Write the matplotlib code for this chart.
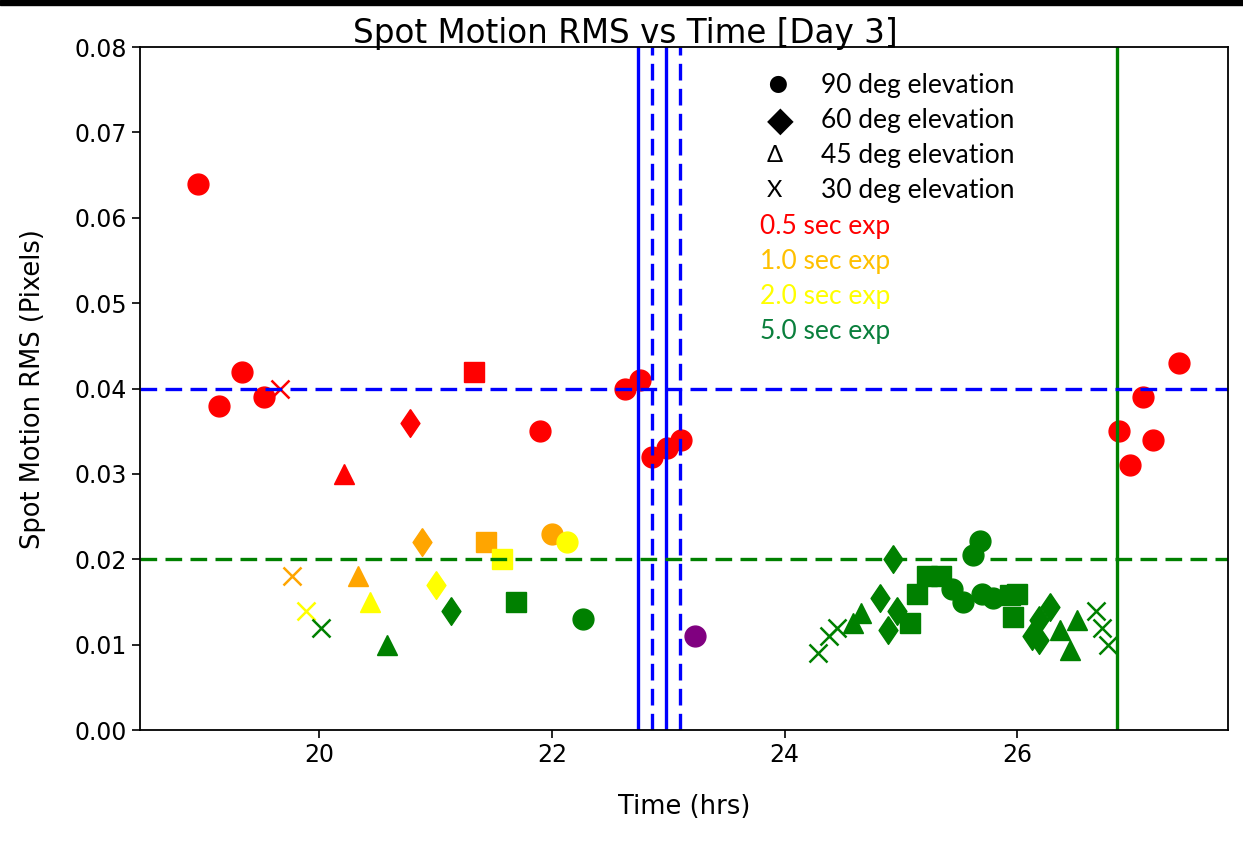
import matplotlib
matplotlib.use("Agg")
import matplotlib.pyplot as plt
from matplotlib.patches import Rectangle

# 0.5 sec exposures (red)
red_circle_t = [18.96, 19.14, 19.34, 19.53, 21.90, 22.63, 22.76, 22.86, 22.99, 23.11,
                26.87, 26.97, 27.08, 27.17, 27.39]
red_circle_rms = [0.064, 0.038, 0.042, 0.039, 0.035, 0.040, 0.041, 0.032, 0.033, 0.034,
                  0.035, 0.031, 0.039, 0.034, 0.043]
red_diamond_t, red_diamond_rms = [20.78], [0.036]
red_tri_t, red_tri_rms = [20.21], [0.030]
red_x_t, red_x_rms = [19.66], [0.040]
red_square_t, red_square_rms = [21.33], [0.042]

# 1.0 sec exposures (orange)
orange_circle_t, orange_circle_rms = [22.00], [0.023]
orange_diamond_t, orange_diamond_rms = [20.88], [0.022]
orange_tri_t, orange_tri_rms = [20.33], [0.018]
orange_x_t, orange_x_rms = [19.77], [0.018]
orange_square_t, orange_square_rms = [21.43], [0.022]

# 2.0 sec exposures (yellow)
yellow_circle_t, yellow_circle_rms = [22.13], [0.022]
yellow_diamond_t, yellow_diamond_rms = [21.00], [0.017]
yellow_tri_t, yellow_tri_rms = [20.44], [0.015]
yellow_x_t, yellow_x_rms = [19.89], [0.014]
yellow_square_t, yellow_square_rms = [21.57], [0.020]

# 5.0 sec exposures (green)
green_circle_t = [22.27, 25.44, 25.53, 25.62, 25.68, 25.70, 25.79]
green_circle_rms = [0.013, 0.0165, 0.015, 0.0205, 0.0222, 0.016, 0.0155]
green_diamond_t = [21.13, 24.82, 24.89, 24.93, 24.97, 26.13, 26.19, 26.19, 26.28]
green_diamond_rms = [0.014, 0.0155, 0.0117, 0.020, 0.014, 0.011, 0.0129, 0.0105, 0.0144]
green_tri_t = [20.58, 24.59, 24.66, 26.37, 26.45, 26.51]
green_tri_rms = [0.010, 0.0125, 0.0137, 0.0117, 0.0094, 0.0129]
green_x_t = [20.02, 24.29, 24.38, 24.45, 26.68, 26.73, 26.78]
green_x_rms = [0.012, 0.009, 0.011, 0.012, 0.014, 0.012, 0.010]
green_square_t = [21.69, 25.08, 25.14, 25.22, 25.34, 25.94, 26.00, 25.96]
green_square_rms = [0.015, 0.0125, 0.016, 0.018, 0.018, 0.0158, 0.016, 0.0132]

# other
purple_circle_t, purple_circle_rms = [23.23], [0.011]

# reference lines
blue_solid_t = [22.74, 22.98]
blue_dash_t = [22.86, 23.10]
green_solid_t = [26.86]
blue_limit = 0.040
green_limit = 0.020

legend_shapes = ["\u25CF", "\u25C6", "\u0394", "X"]
legend_shape_text = ["90 deg elevation", "60 deg elevation", "45 deg elevation", "30 deg elevation"]
legend_exp_text = ["0.5 sec exp", "1.0 sec exp", "2.0 sec exp", "5.0 sec exp"]
legend_exp_colors = ["#ff0000", "#ffc000", "#ffff00", "#0a7f3c"]

fig = plt.figure(figsize=(12.43, 8.49), dpi=100)
ax = fig.add_axes([0.1126, 0.140, 0.8753, 0.8046])

ms = 15
diamond = [(0, 1), (0.68, 0), (0, -1), (-0.68, 0), (0, 1)]
groups = [
    ("red", red_circle_t, red_circle_rms, red_diamond_t, red_diamond_rms, red_tri_t, red_tri_rms,
     red_x_t, red_x_rms, red_square_t, red_square_rms),
    ("orange", orange_circle_t, orange_circle_rms, orange_diamond_t, orange_diamond_rms,
     orange_tri_t, orange_tri_rms, orange_x_t, orange_x_rms, orange_square_t, orange_square_rms),
    ("yellow", yellow_circle_t, yellow_circle_rms, yellow_diamond_t, yellow_diamond_rms,
     yellow_tri_t, yellow_tri_rms, yellow_x_t, yellow_x_rms, yellow_square_t, yellow_square_rms),
    ("green", green_circle_t, green_circle_rms, green_diamond_t, green_diamond_rms,
     green_tri_t, green_tri_rms, green_x_t, green_x_rms, green_square_t, green_square_rms),
]
for c, ct, cr, dt, dr, tt, tr, xt, xr, st, sr in groups:
    ax.plot(ct, cr, 'o', color=c, ms=ms, ls='none')
    ax.plot(dt, dr, marker=diamond, color=c, ms=20, ls='none')
    ax.plot(tt, tr, '^', color=c, ms=ms, ls='none')
    ax.plot(xt, xr, 'x', color=c, ms=13, mew=1.8, ls='none')
    ax.plot(st, sr, 's', color=c, ms=14, ls='none')
ax.plot(purple_circle_t, purple_circle_rms, 'o', color='purple', ms=ms, ls='none')

for t in blue_solid_t:
    ax.axvline(t, color='blue', lw=2.4)
for t in blue_dash_t:
    ax.axvline(t, color='blue', lw=2.4, ls=(0, (5, 2.5)))
for t in green_solid_t:
    ax.axvline(t, color='green', lw=2.4)
ax.axhline(blue_limit, color='blue', lw=2.4, ls=(0, (5, 2.5)))
ax.axhline(green_limit, color='green', lw=2.4, ls=(0, (5, 2.5)))

ax.set_xlim(18.46, 27.81)
ax.set_ylim(0, 0.08)
ax.set_xticks([20, 22, 24, 26])
ax.set_yticks([0, 0.01, 0.02, 0.03, 0.04, 0.05, 0.06, 0.07, 0.08])
ax.yaxis.set_major_formatter(matplotlib.ticker.FormatStrFormatter('%.2f'))
ax.tick_params(labelsize=17, length=6, width=1.2)
for s in ax.spines.values():
    s.set_linewidth(1.3)
ax.set_xlabel("Time (hrs)", fontsize=18.5, labelpad=19)
ax.set_ylabel("Spot Motion RMS (Pixels)", fontsize=18.5, labelpad=20)
fig.text(0.503, 0.961, "Spot Motion RMS vs Time [Day 3]", ha='center', va='center', fontsize=23.5)

# hand-made legend
for i, (sym, txt) in enumerate(zip(legend_shapes, legend_shape_text)):
    y = 0.944 - i * 0.0515
    ax.text(0.576, y, sym, transform=ax.transAxes, fontsize=25 if i < 2 else 17,
            family=['Lato', 'DejaVu Sans'], ha='left', va='center')
    ax.text(0.626, y, txt, transform=ax.transAxes, fontsize=19, family='Lato',
            ha='left', va='center')
for i, (txt, c) in enumerate(zip(legend_exp_text, legend_exp_colors)):
    y = 0.944 - (i + 4) * 0.0515
    ax.text(0.570, y, txt, transform=ax.transAxes, fontsize=19, family='Lato',
            color=c, ha='left', va='center')

# screenshot border strip at the top
fig.patches.append(Rectangle((0, 0.994), 1, 0.006, transform=fig.transFigure,
                             color='black', zorder=10))

fig.savefig("out.png", dpi=100)
